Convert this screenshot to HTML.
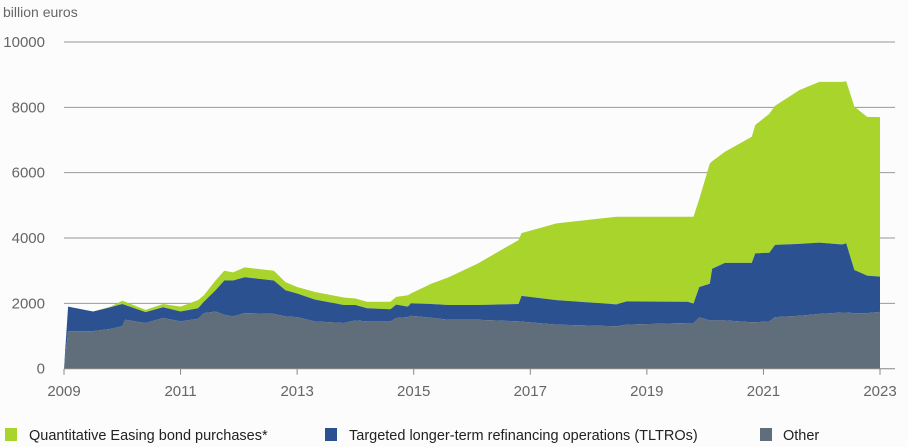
<!DOCTYPE html>
<html><head><meta charset="utf-8"><style>
body{margin:0;background:#fcfcfc;}
svg{display:block;font-family:"Liberation Sans",sans-serif;}
</style></head><body>
<svg id="chart" width="908" height="447">
<text x="3" y="17" font-size="14" fill="#666">billion euros</text>
<g id="grid"></g>
<g id="areas"></g>
<g id="axes"></g>
<g>
 <g><rect x="5" y="428" width="12" height="13" fill="#a8d42c"/><text x="29" y="440" font-size="14.5" fill="#222">Quantitative Easing bond purchases*</text></g>
 <g><rect x="325" y="428" width="12" height="13" fill="#2b5190"/><text x="349" y="440" font-size="14.5" fill="#222">Targeted longer-term refinancing operations (TLTROs)</text></g>
 <g><rect x="760" y="428" width="12" height="13" fill="#5f6e7a"/><text x="783" y="440" font-size="14.5" fill="#222">Other</text></g>
</g>
</svg>
<script>
const dates=[2009.0,2009.07,2009.5,2009.8,2010.0,2010.05,2010.4,2010.7,2011.0,2011.3,2011.4,2011.6,2011.75,2011.9,2012.1,2012.6,2012.8,2013.0,2013.3,2013.8,2014.0,2014.2,2014.6,2014.7,2014.9,2014.95,2015.3,2015.6,2016.1,2016.8,2016.85,2017.45,2018.48,2018.65,2019.7,2019.8,2019.9,2020.08,2020.12,2020.34,2020.8,2020.86,2021.1,2021.2,2021.62,2021.96,2022.35,2022.42,2022.56,2022.78,2023.0];
const other=[0,1150,1150,1220,1300,1500,1400,1550,1450,1530,1700,1750,1650,1600,1700,1680,1600,1580,1450,1400,1480,1450,1450,1550,1580,1620,1560,1500,1500,1450,1440,1350,1300,1350,1400,1400,1570,1480,1480,1480,1420,1420,1450,1580,1620,1680,1720,1720,1700,1700,1740];
const tltro=[0,750,600,660,680,450,330,330,300,320,350,650,1050,1100,1100,1020,800,720,670,550,470,400,370,410,320,380,420,450,450,530,790,750,670,710,650,590,930,1120,1580,1760,1820,2110,2100,2210,2200,2180,2080,2120,1320,1150,1080];
const qe=[0,0,0,20,100,100,70,100,150,250,200,300,300,250,300,300,250,200,230,230,200,200,230,240,350,300,620,850,1270,1960,1920,2350,2680,2590,2600,2660,2700,3680,3290,3400,3860,3930,4250,4260,4710,4920,4980,4960,5000,4860,4880];
const yTicks=[0,2000,4000,6000,8000,10000];
const xTicks=[2009,2011,2013,2015,2017,2019,2021,2023];
const X=v=>64+(v-2009)*(880-64)/14;
const Y=v=>368.7-v*0.03267;
const NS="http://www.w3.org/2000/svg";
const grid=document.getElementById('grid'),areas=document.getElementById('areas'),axes=document.getElementById('axes');
function mk(tag,attrs,parent){const e=document.createElementNS(NS,tag);for(const k in attrs)e.setAttribute(k,attrs[k]);parent.appendChild(e);return e;}
yTicks.forEach(t=>{
 if(t>0){const l=mk('line',{x1:64,x2:895,y1:Y(t),y2:Y(t),stroke:'#999','stroke-width':1},grid);
 
 }
 const tx=mk('text',{x:45,y:Y(t)+5,'font-size':15,fill:'#666','text-anchor':'end'},axes);tx.textContent=t;
 
 
});
const cum1=other.map(v=>v),cum2=other.map((v,i)=>v+tltro[i]),cum3=cum2.map((v,i)=>v+qe[i]);
function band(top,bot,color,name){
 let d='M'+dates.map((t,i)=>X(t)+','+Y(top[i])).join(' L');
 for(let i=dates.length-1;i>=0;i--)d+=' L'+X(dates[i])+','+Y(bot[i]);
 const p=mk('path',{d:d+'Z',fill:color},areas);
 
 
}
const zero=dates.map(()=>0);
band(cum3,cum2,'#a8d42c','area-qe');
band(cum2,cum1,'#2b5190','area-tltro');
band(cum1,zero,'#5f6e7a','area-other');
const ax=mk('line',{x1:64,x2:895,y1:Y(0),y2:Y(0),stroke:'#888','stroke-width':1},axes);


xTicks.forEach(t=>{
 const l=mk('line',{x1:X(t),x2:X(t),y1:Y(0),y2:Y(0)+6,stroke:'#888'},axes);
 
 
 const tx=mk('text',{x:X(t),y:396,'font-size':15,fill:'#666','text-anchor':'middle'},axes);tx.textContent=t;
 
 
});
</script>
</body></html>
